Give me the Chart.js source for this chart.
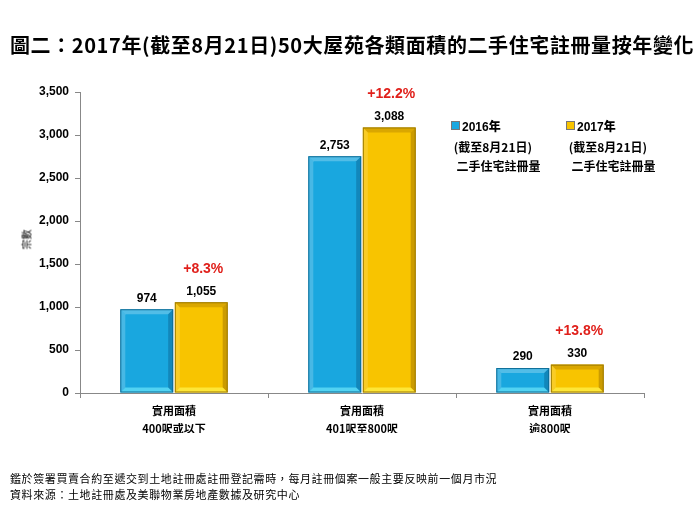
<!DOCTYPE html>
<html>
<head>
<meta charset="utf-8">
<script src="https://cdn.jsdelivr.net/npm/chart.js@4"></script>
<style>
  body { margin:0; background:#fff; font-family:"Noto Sans CJK TC", sans-serif; }
  #wrap { position:relative; width:700px; height:525px; }
  #chart { position:absolute; left:0; top:0; }
  .title { position:absolute; left:10px; top:30px; font-size:20px; font-weight:bold; white-space:nowrap; letter-spacing:0.6px; }
  .ytitle { position:absolute; left:16px; top:232px; font-size:10px; transform:rotate(-90deg); }
  .leg { position:absolute; top:116px; font-size:12px; font-weight:bold; line-height:19px; white-space:nowrap; }
  .leg b { font-size:12px; font-family:"Liberation Sans", "Noto Sans CJK TC", sans-serif; }
  .sw { display:inline-block; width:7px; height:7px; margin-right:2px; vertical-align:1px; border:1px solid #777; }
  .note { position:absolute; left:10px; top:470px; font-size:11px; line-height:16px; white-space:nowrap; letter-spacing:0.6px; }
</style>
</head>
<body>
<div id="wrap">
  <canvas id="chart" width="700" height="525"></canvas>
  <div class="title">圖二：2017年(截至8月21日)50大屋苑各類面積的二手住宅註冊量按年變化</div>
  <div class="ytitle">宗數</div>
  <div class="leg" style="left:451px"><span class="sw" style="background:#19a7df"></span><b>2016年</b><br>&nbsp;(截至8月21日)<br>&nbsp;&nbsp;二手住宅註冊量</div>
  <div class="leg" style="left:566px"><span class="sw" style="background:#f8c400"></span><b>2017年</b><br>&nbsp;(截至8月21日)<br>&nbsp;&nbsp;二手住宅註冊量</div>
  <div class="note">鑑於簽署買賣合約至遞交到土地註冊處註冊登記需時，每月註冊個案一般主要反映前一個月市況<br>資料來源：土地註冊處及美聯物業房地產數據及研究中心</div>
</div>
<script>
// 資料
const categories = [["實用面積","400呎或以下"],["實用面積","401呎至800呎"],["實用面積","逾800呎"]];
const values2016 = [974, 2753, 290];
const values2017 = [1055, 3088, 330];
const changeLabels = ["+8.3%", "+12.2%", "+13.8%"];
const yTicks = [0, 500, 1000, 1500, 2000, 2500, 3000, 3500];

// bevel effect on each bar
const bevelBars = {
  id: "bevelBars",
  afterDatasetsDraw(chart) {
    const ctx = chart.ctx;
    chart.data.datasets.forEach((ds, i) => {
      chart.getDatasetMeta(i).data.forEach(bar => {
        const l = bar.x - bar.width / 2, r = bar.x + bar.width / 2;
        const t = bar.y, b = bar.base, d = 5;
        const side = (pts, col) => {
          ctx.beginPath();
          ctx.moveTo(pts[0][0], pts[0][1]);
          for (let k = 1; k < pts.length; k++) ctx.lineTo(pts[k][0], pts[k][1]);
          ctx.closePath();
          ctx.fillStyle = col;
          ctx.fill();
        };
        ctx.save();
        side([[l,t],[r,t],[r-d,t+d],[l+d,t+d]], ds.bevel.top);
        side([[l,t],[l+d,t+d],[l+d,b-d],[l,b]], ds.bevel.left);
        side([[r,t],[r,b],[r-d,b-d],[r-d,t+d]], ds.bevel.right);
        side([[l,b],[l+d,b-d],[r-d,b-d],[r,b]], ds.bevel.bottom);
        ctx.strokeStyle = ds.borderColor;
        ctx.lineWidth = 1;
        ctx.strokeRect(l + 0.5, t + 0.5, bar.width - 1, b - t - 1);
        ctx.restore();
      });
    });
  }
};

// value labels and percent change
const valueLabels = {
  id: "valueLabels",
  afterDatasetsDraw(chart) {
    const ctx = chart.ctx;
    ctx.save();
    ctx.textAlign = "center";
    ctx.textBaseline = "bottom";
    chart.data.datasets.forEach((ds, i) => {
      chart.getDatasetMeta(i).data.forEach((bar, j) => {
        ctx.fillStyle = "#000";
        ctx.font = "bold 12px 'Liberation Sans', sans-serif";
        ctx.fillText(ds.data[j].toLocaleString("en-US"), bar.x, bar.y - 5);
        if (i === 1) {
          ctx.fillStyle = "#e0201b";
          ctx.font = "bold 14px 'Liberation Sans', sans-serif";
          ctx.fillText(changeLabels[j], bar.x + 2, bar.y - 26);
        }
      });
    });
    ctx.restore();
  }
};

new Chart(document.getElementById("chart"), {
  type: "bar",
  data: {
    labels: categories,
    datasets: [{
      label: "2016年",
      data: values2016,
      backgroundColor: "#19a7df",
      borderColor: "#0d6c96",
      bevel: { top: "rgba(255,255,255,0.25)", left: "rgba(255,255,255,0.2)", right: "rgba(0,40,80,0.25)", bottom: "rgba(120,240,255,0.6)" },
      barPercentage: 0.97,
      categoryPercentage: 0.58
    }, {
      label: "2017年",
      data: values2017,
      backgroundColor: "#f8c400",
      borderColor: "#9c7a00",
      bevel: { top: "rgba(150,100,0,0.3)", left: "rgba(255,255,255,0.15)", right: "rgba(120,80,0,0.35)", bottom: "rgba(255,245,80,0.7)" },
      barPercentage: 0.97,
      categoryPercentage: 0.58
    }]
  },
  options: {
    responsive: false,
    animation: false,
    layout: { padding: { left: 0, top: 92, right: 56, bottom: 92 } },
    plugins: { legend: { display: false }, tooltip: { enabled: false } },
    scales: {
      x: {
        afterFit: s => { s.height = 40; },
        border: { color: "#888" },
        grid: { drawOnChartArea: false, tickLength: 5, color: "#888" },
        ticks: { color: "#000", padding: 4, font: { size: 11, weight: "bold", family: "'Noto Sans CJK TC', sans-serif", lineHeight: 1.6 } }
      },
      y: {
        min: 0, max: 3500,
        afterFit: s => { s.width = 80; },
        afterBuildTicks: s => { s.ticks = yTicks.map(v => ({ value: v })); },
        border: { color: "#888" },
        grid: { drawOnChartArea: false, tickLength: 5, color: "#888" },
        ticks: { color: "#000", padding: 6, font: { size: 12, weight: "bold", family: "'Liberation Sans', sans-serif" } }
      }
    }
  },
  plugins: [bevelBars, valueLabels]
});
</script>
</body>
</html>
